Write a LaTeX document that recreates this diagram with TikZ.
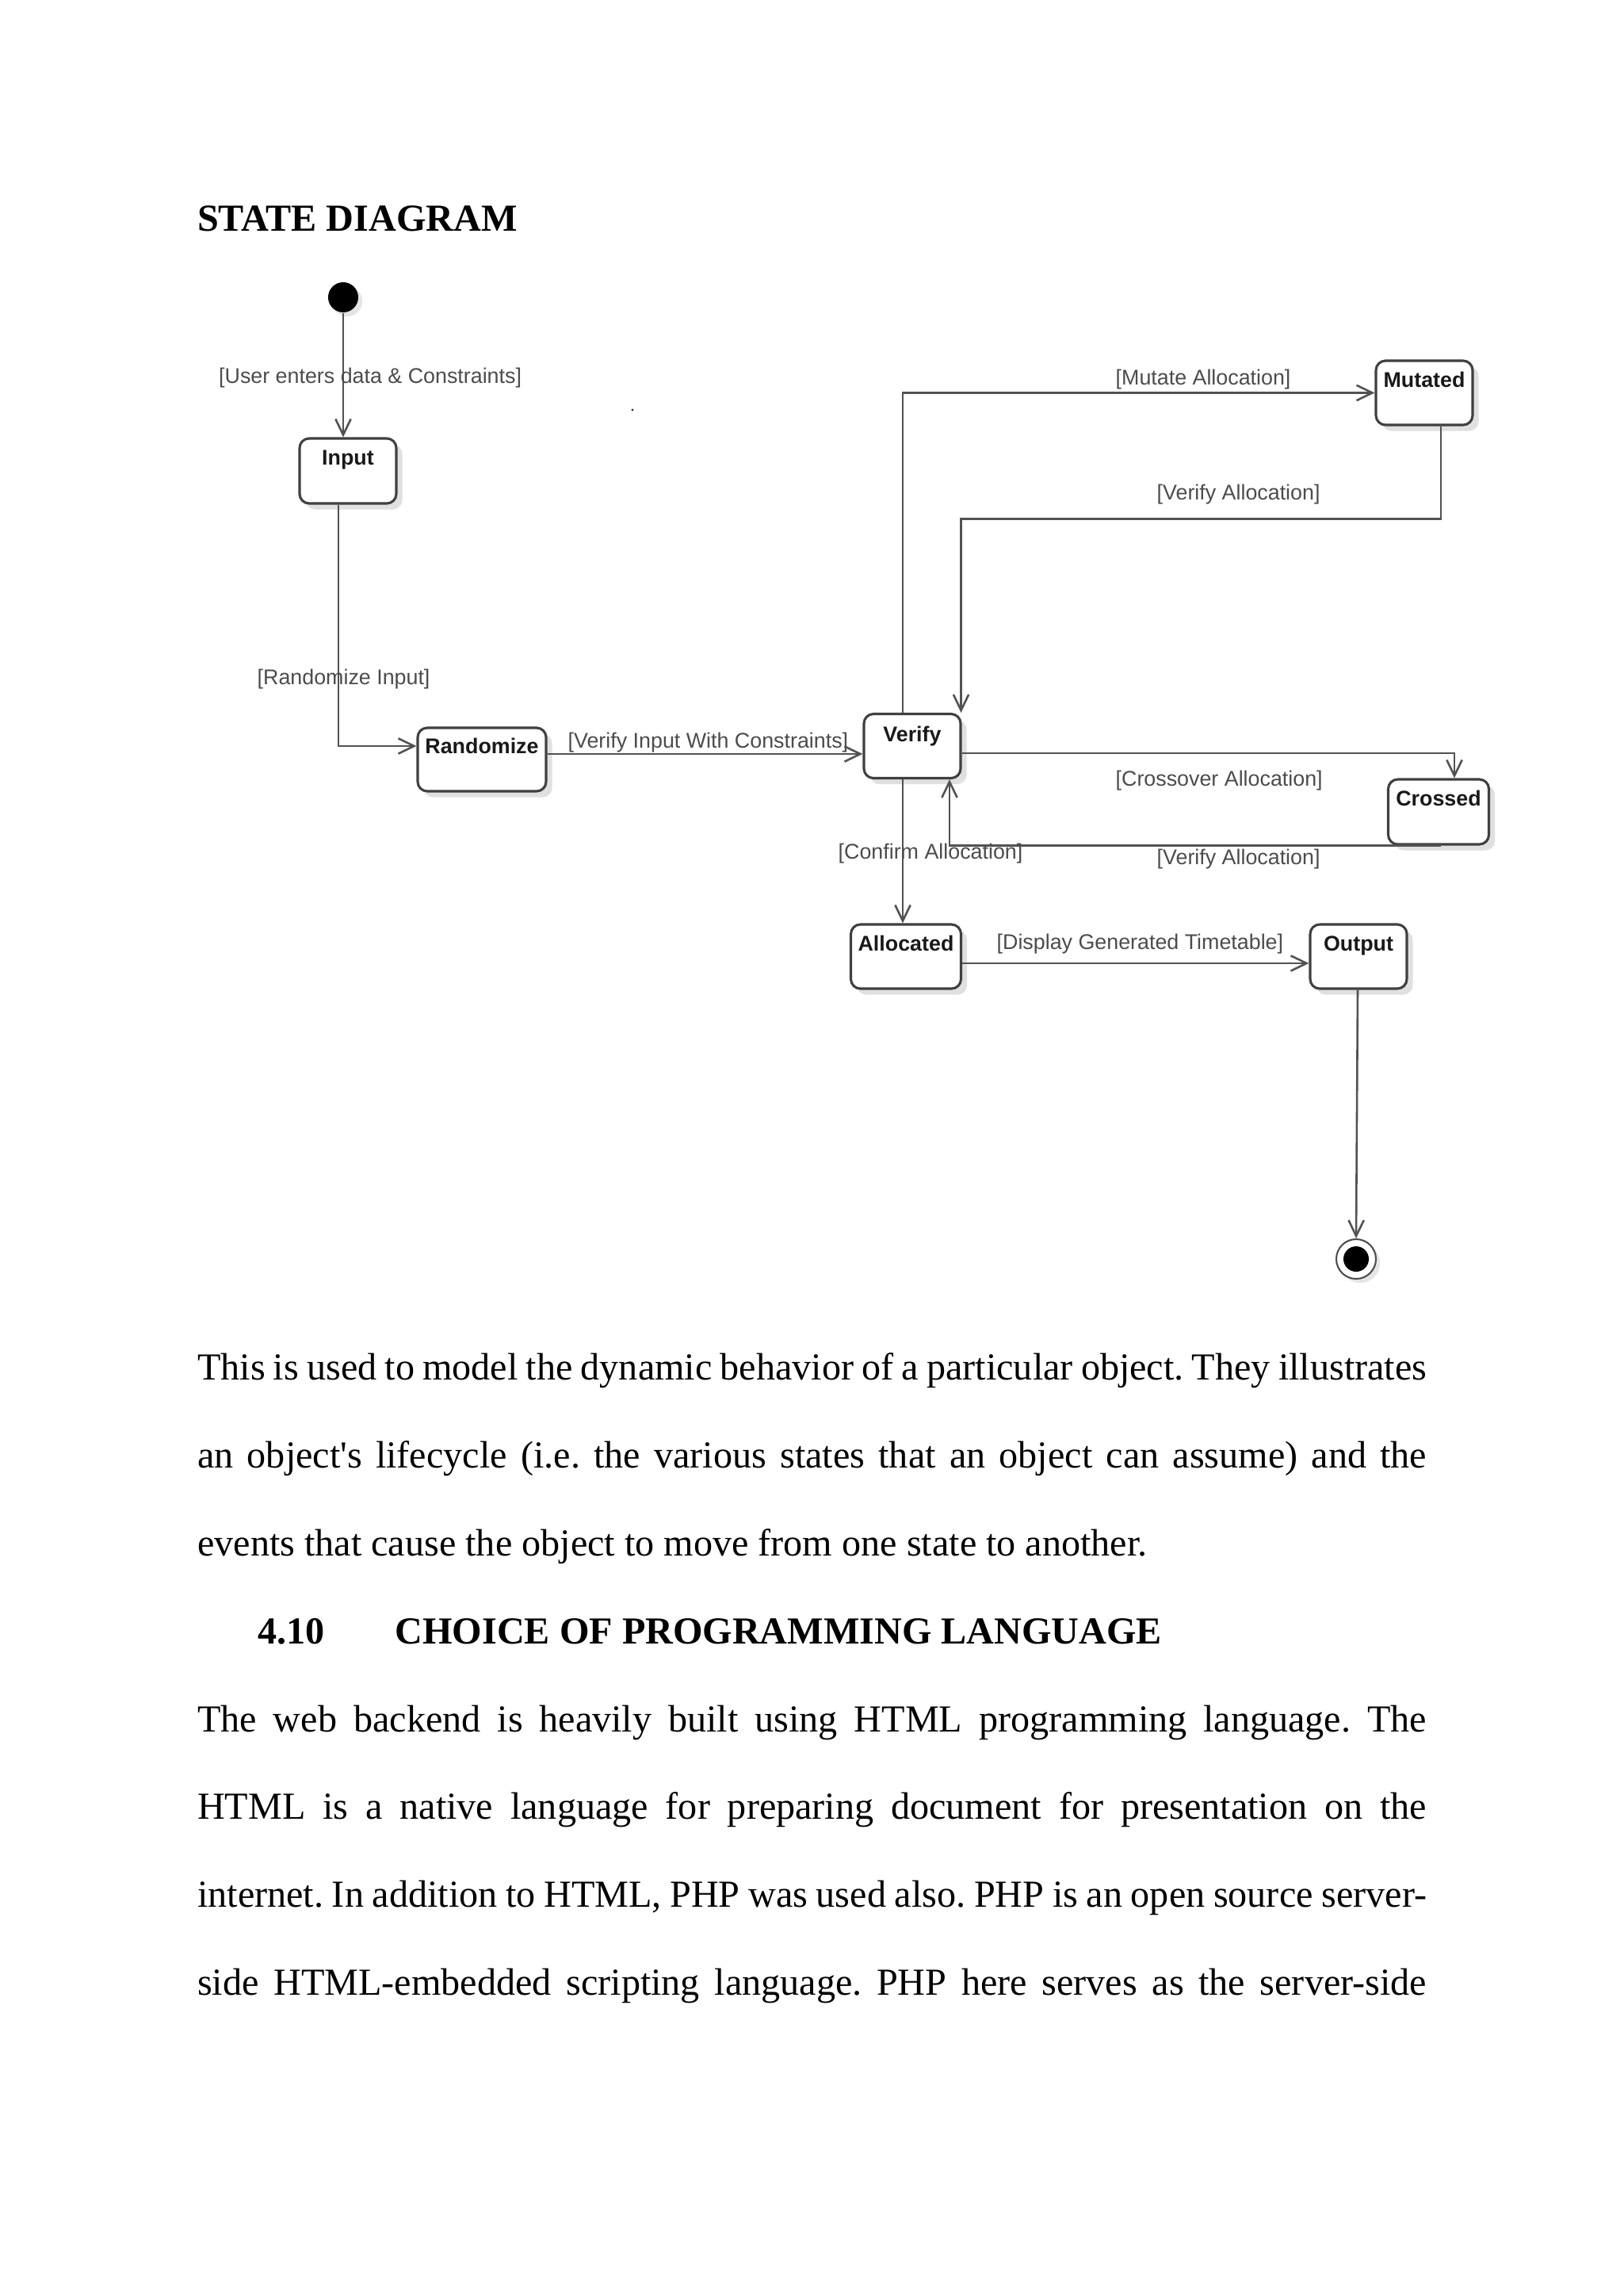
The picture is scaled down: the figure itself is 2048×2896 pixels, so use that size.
\documentclass[tikz,border=0pt]{standalone}
\usepackage{fontspec}
\setmainfont{Liberation Serif}
\newfontfamily\arialf{Liberation Sans}
\usetikzlibrary{calc,arrows.meta,shadows}
\frenchspacing
\begin{document}
\begin{tikzpicture}[x=0.29067pt,y=-0.29067pt,
  statebox/.style={draw=black!75, line width=0.9pt, rounded corners=3.5pt, fill=white, inner sep=0pt,
     drop shadow={shadow xshift=2.2pt,shadow yshift=-2.2pt,fill=black!12,opacity=1}},
  trans/.style={draw=black!68, line width=0.75pt, -{Straight Barb[length=5.8pt,width=5.6pt]}},
  guard/.style={font=\arialf\fontsize{7.8}{9}\selectfont, text=black!70, inner sep=0pt, anchor=base west},
  sname/.style={font=\arialf\bfseries\fontsize{7.8}{9}\selectfont, text=black!90, inner sep=0pt, anchor=base},
  bodytext/.style={font=\fontsize{14}{16}\selectfont, inner sep=0pt, anchor=base west},
  headtext/.style={font=\bfseries\fontsize{14}{16}\selectfont, inner sep=0pt, anchor=base west}]
\useasboundingbox[fill=white] (0,0) rectangle (2048,2896);

% title
\node[headtext] (title) at (248.5,291.7) {STATE DIAGRAM};

% states
\node[circle, fill=black, minimum size=11.05pt, inner sep=0pt,
      drop shadow={shadow xshift=1.5pt,shadow yshift=-1.5pt,fill=black!10,opacity=1}] (init) at (433,375) {};
\node[statebox, minimum width=35.46pt, minimum height=23.83pt] (input) at (439,594) {};
\node[statebox, minimum width=47.09pt, minimum height=23.25pt] (randomize) at (608,958) {};
\node[statebox, minimum width=35.46pt, minimum height=23.54pt] (verify) at (1151,941) {};
\node[statebox, minimum width=35.46pt, minimum height=23.54pt] (mutated) at (1797,495.5) {};
\node[statebox, minimum width=36.91pt, minimum height=23.83pt] (crossed) at (1815,1024) {};
\node[statebox, minimum width=40.40pt, minimum height=23.54pt] (allocated) at (1143,1206.5) {};
\node[statebox, minimum width=35.46pt, minimum height=23.54pt] (output) at (1714,1206.5) {};
\node[circle, draw=black!70, line width=0.6pt, fill=white, minimum size=14.53pt, inner sep=0pt,
      drop shadow={shadow xshift=1.5pt,shadow yshift=-1.5pt,fill=black!10,opacity=1}] (final) at (1711,1588) {};
\node[circle, fill=black, minimum size=9.3pt, inner sep=0pt] (finalin) at (final) {};
\node[circle, fill=black!80, minimum size=0.9pt, inner sep=0pt] (dot) at (798,517) {};

% state names
\node[sname] (ninput) at ($(input.north)+(0,35)$) {Input};
\node[sname] (nrandomize) at ($(randomize.north)+(0,34)$) {Randomize};
\node[sname] (nverify) at ($(verify.north)+(0,37)$) {Verify};
\node[sname] (nmutated) at ($(mutated.north)+(0,35)$) {Mutated};
\node[sname] (ncrossed) at ($(crossed.north)+(0,35)$) {Crossed};
\node[sname] (nallocated) at ($(allocated.north)+(0,35)$) {Allocated};
\node[sname] (noutput) at ($(output.north)+(0,35)$) {Output};

% transitions
\draw[trans] (init.south) -- (input.north -| init.south);
\draw[trans] ($(input.south)+(-12,0)$) |- ($(randomize.west)+(0,-17)$);
\draw[trans] ($(randomize.east)+(0,-7)$) -- ($(verify.west)+(0,10)$);
\draw[trans] ($(verify.north)+(-12,0)$) |- (mutated.west);
\draw[trans] ($(mutated.south)+(21,0)$) -- ++(0,117) -| ($(verify.north east)+(-1,0)$);
\draw[trans] ($(verify.east)+(0,9)$) -| ($(crossed.north)+(20,0)$);
\draw[trans] ($(crossed.south)+(3,0)$) -| ($(verify.south)+(47,0)$);
\draw[trans] ($(verify.south)+(-12,0)$) -- ($(allocated.north)+(-4,0)$);
\draw[trans] ($(allocated.east)+(0,8.5)$) -- ($(output.west)+(0,8.5)$);
\draw[trans] ($(output.south)+(-1,0)$) -- (final.north);

% guards
\node[guard] (g1) at (275.5,483) {[User enters data \& Constraints]};
\node[guard] (g2) at (324,863) {[Randomize Input]};
\node[guard] (g3) at (716,943) {[Verify Input With Constraints]};
\node[guard] (g4) at (1407,485) {[Mutate Allocation]};
\node[guard] (g5) at (1459,630) {[Verify Allocation]};
\node[guard] (g6) at (1407,991) {[Crossover Allocation]};
\node[guard] (g7) at (1459,1090) {[Verify Allocation]};
\node[guard] (g8) at (1057,1083) {[Confirm Allocation]};
\node[guard] (g9) at (1257,1197.5) {[Display Generated Timetable]};

% body text
\node[bodytext] (l1) at (248.5,1740.7) {\makebox[450.8pt][s]{This is used to model the dynamic behavior of a particular object. They illustrates}};
\node[bodytext] (l2) at (248.5,1851.4) {\makebox[450.8pt][s]{an object\textquotesingle s lifecycle (i.e. the various states that an object can assume) and the}};
\node[bodytext] (l3) at (248.5,1962) {events that cause the object to move from one state to another.};
\node[headtext] (h1) at (325,2073) {4.10};
\node[headtext] (h2) at (498,2073) {CHOICE OF PROGRAMMING LANGUAGE};
\node[bodytext] (l4) at (248.5,2184) {\makebox[450.8pt][s]{The web backend is heavily built using HTML programming language. The}};
\node[bodytext] (l5) at (248.5,2294.6) {\makebox[450.8pt][s]{HTML is a native language for preparing document for presentation on the}};
\node[bodytext] (l6) at (248.5,2405.4) {\makebox[450.8pt][s]{internet. In addition to HTML, PHP was used also. PHP is an open source server-}};
\node[bodytext] (l7) at (248.5,2516) {\makebox[450.8pt][s]{side HTML-embedded scripting language. PHP here serves as the server-side}};
\end{tikzpicture}
\end{document}
